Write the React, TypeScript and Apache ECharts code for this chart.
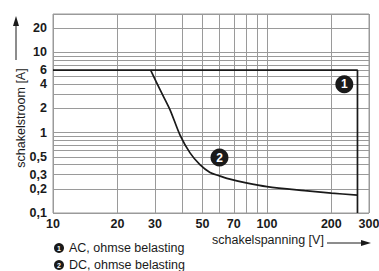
import React, { useEffect, useRef } from "react";
import * as echarts from "echarts";

// X axis (switching voltage, V)
const xTickValues = [10, 20, 30, 50, 70, 100, 200, 300];
const xTickLabels = ["10", "20", "30", "50", "70", "100", "200", "300"];
const xGridValues = [10, 20, 30, 40, 50, 60, 70, 80, 90, 100, 200, 300];

// Y axis (switching current, A)
const yTickValues = [0.1, 0.2, 0.3, 0.5, 1, 2, 4, 6, 10, 20];
const yTickLabels = ["0,1", "0,2", "0,3", "0,5", "1", "2", "4", "6", "10", "20"];
const yGridValues = [
  0.1, 0.2, 0.3, 0.4, 0.5, 0.6, 0.7, 0.8, 0.9,
  1, 2, 3, 4, 5, 6, 7, 8, 9, 10, 20, 30,
];

// Curve 1: AC, ohmse belasting
const acVoltage = [10, 265, 265];
const acCurrent = [6, 6, 0.1];

// Curve 2: DC, ohmse belasting
const dcVoltage = [28.6, 31.6, 35.2, 39.2, 43.7, 48.6, 54.2, 60, 65, 80, 100, 150, 200, 265];
const dcCurrent = [6, 3.45, 1.94, 0.94, 0.56, 0.40, 0.32, 0.29, 0.27, 0.237, 0.213, 0.19, 0.177, 0.167];

// Curve number markers
const markerNames = ["1", "2"];
const markerVoltage = [230, 60];
const markerCurrent = [4, 0.49];

// Legend entries
const legendTexts = ["AC, ohmse belasting", "DC, ohmse belasting"];

const FONT = "'Liberation Sans', Arial, Helvetica, sans-serif";
const GRID_COLOR = "#9a9a9a";
const INK = "#1a1a1a";

export default function App() {
  const ref = useRef<HTMLDivElement>(null);

  useEffect(() => {
    if (!ref.current) return;
    document.body.style.margin = "0";
    const chart = echarts.init(ref.current, null, { renderer: "svg" });

    const tickLabelStyle = {
      fontFamily: FONT,
      fontSize: 12.5,
      fontWeight: "bold" as const,
      color: INK,
    };

    const hLines = yGridValues.map((v) => {
      const idx = yTickValues.indexOf(v);
      return {
        yAxis: v,
        name: idx >= 0 ? yTickLabels[idx] : "",
        label: {
          show: idx >= 0,
          position: "start",
          formatter: "{b}",
          distance: 6,
          ...tickLabelStyle,
        },
      };
    });
    const vLines = xGridValues.map((v) => {
      const idx = xTickValues.indexOf(v);
      return {
        xAxis: v,
        name: idx >= 0 ? xTickLabels[idx] : "",
        label: {
          show: idx >= 0,
          position: "start",
          formatter: "{b}",
          distance: 4,
          ...tickLabelStyle,
        },
      };
    });

    const legendGraphics: any[] = [];
    legendTexts.forEach((t, i) => {
      const cy = 248 + i * 17;
      legendGraphics.push({
        type: "circle",
        shape: { cx: 59, cy, r: 5 },
        style: { fill: INK },
      });
      legendGraphics.push({
        type: "text",
        x: 59,
        y: cy,
        style: {
          text: markerNames[i],
          fill: "#fff",
          font: `bold 7px ${FONT}`,
          align: "center",
          verticalAlign: "middle",
        },
      });
      legendGraphics.push({
        type: "text",
        x: 69,
        y: cy,
        style: {
          text: t,
          fill: INK,
          font: `12.5px ${FONT}`,
          align: "left",
          verticalAlign: "middle",
        },
      });
    });

    chart.setOption({
      animation: false,
      grid: {
        left: 53,
        right: 10,
        top: 14,
        bottom: 58,
        show: true,
        borderColor: GRID_COLOR,
        borderWidth: 1,
      },
      xAxis: {
        type: "log",
        logBase: 10,
        min: 10,
        max: 300,
        axisLine: { show: false },
        axisTick: { show: false },
        axisLabel: { show: false },
        splitLine: { show: false },
      },
      yAxis: {
        type: "log",
        logBase: 10,
        min: 0.1,
        max: 30,
        axisLine: { show: false },
        axisTick: { show: false },
        axisLabel: { show: false },
        splitLine: { show: false },
      },
      series: [
        {
          type: "line",
          data: [],
          silent: true,
          z: 1,
          markLine: {
            silent: true,
            z: 1,
            symbol: ["none", "none"],
            animation: false,
            lineStyle: { color: GRID_COLOR, width: 1, type: "solid" },
            emphasis: { disabled: true },
            data: [...hLines, ...vLines],
          },
        },
        {
          type: "line",
          name: "AC, ohmse belasting",
          data: acVoltage.map((x, i) => [x, acCurrent[i]]),
          showSymbol: false,
          symbol: "none",
          lineStyle: { color: INK, width: 1.7 },
          z: 3,
          clip: false,
        },
        {
          type: "line",
          name: "DC, ohmse belasting",
          data: dcVoltage.map((x, i) => [x, dcCurrent[i]]),
          showSymbol: false,
          symbol: "none",
          smooth: 0.3,
          lineStyle: { color: INK, width: 1.7 },
          z: 3,
        },
        {
          type: "scatter",
          data: markerVoltage.map((x, i) => ({
            value: [x, markerCurrent[i]],
            name: markerNames[i],
          })),
          symbol: "circle",
          symbolSize: 18,
          itemStyle: { color: INK, opacity: 1 },
          emphasis: { disabled: true },
          label: {
            show: true,
            position: "inside",
            formatter: "{b}",
            color: "#fff",
            fontFamily: FONT,
            fontSize: 12,
            fontWeight: "bold",
          },
          z: 10,
        },
      ],
      graphic: [
        // Y axis name + arrow
        {
          type: "text",
          x: 21,
          y: 118,
          rotation: Math.PI / 2,
          style: {
            text: "schakelstroom [A]",
            fill: INK,
            font: `12.5px ${FONT}`,
            align: "center",
            verticalAlign: "middle",
          },
        },
        {
          type: "line",
          shape: { x1: 16, y1: 60, x2: 16, y2: 24 },
          style: { stroke: INK, lineWidth: 1 },
        },
        {
          type: "polygon",
          shape: { points: [[16, 16], [13, 26], [19, 26]] },
          style: { fill: INK },
        },
        // X axis name + arrow
        {
          type: "text",
          x: 212,
          y: 240,
          style: {
            text: "schakelspanning [V]",
            fill: INK,
            font: `12.5px ${FONT}`,
            align: "left",
            verticalAlign: "middle",
          },
        },
        {
          type: "line",
          shape: { x1: 327, y1: 243, x2: 362, y2: 243 },
          style: { stroke: INK, lineWidth: 1 },
        },
        {
          type: "polygon",
          shape: { points: [[371, 243], [361, 240], [361, 246]] },
          style: { fill: INK },
        },
        ...legendGraphics,
      ],
    });

    return () => chart.dispose();
  }, []);

  return <div ref={ref} style={{ width: 379, height: 271 }} />;
}
